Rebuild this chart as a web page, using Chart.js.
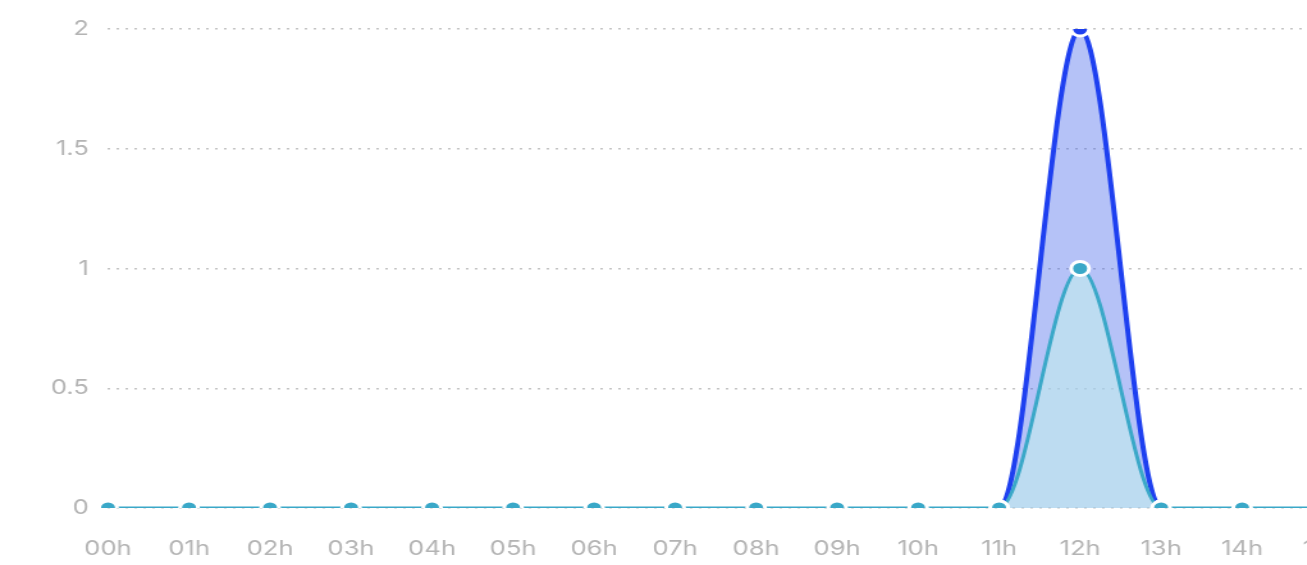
<!DOCTYPE html>
<html>
<head>
<meta charset="utf-8">
<script src="https://cdn.jsdelivr.net/npm/chart.js@4/dist/chart.umd.min.js"></script>
<style>
  html, body { margin: 0; padding: 0; background: #fff; overflow: hidden; }
  #c { display: block; transform: scaleX(1.28); transform-origin: 0 0; }
</style>
</head>
<body>
<canvas id="c" width="1560" height="565"></canvas>
<script>
const hours = ["00h","01h","02h","03h","04h","05h","06h","07h","08h","09h","10h","11h",
               "12h","13h","14h","15h","16h","17h","18h","19h","20h","21h","22h","23h"];
const seriesTeal = [0,0,0,0,0,0,0,0,0,0,0,0,1,0,0,0,0,0,0,0,0,0,0,0];
const seriesBlue = [0,0,0,0,0,0,0,0,0,0,0,0,2,0,0,0,0,0,0,0,0,0,0,0];
const yTicks = [0, 0.5, 1, 1.5, 2];

const tickFont = { family: "Inter, 'Open Sans', sans-serif", size: 20, weight: 400 };
const TEAL = '#3aa8c8';
const BLUE = '#1e40f0';

new Chart(document.getElementById('c'), {
  type: 'line',
  data: {
    labels: hours,
    datasets: [
      {
        label: 'teal',
        data: seriesTeal,
        borderColor: TEAL,
        borderWidth: 3,
        backgroundColor: 'rgba(195,240,235,0.55)',
        fill: 'origin',
        cubicInterpolationMode: 'monotone',
        pointRadius: 7,
        pointHoverRadius: 7,
        pointBackgroundColor: TEAL,
        pointBorderColor: '#ffffff',
        pointBorderWidth: 3
      },
      {
        label: 'blue',
        data: seriesBlue,
        borderColor: BLUE,
        borderWidth: 4,
        segment: {
          borderColor: ctx => (ctx.p0.parsed.y === 0 && ctx.p1.parsed.y === 0) ? 'rgba(0,0,0,0)' : BLUE
        },
        backgroundColor: 'rgba(60,95,235,0.38)',
        fill: 'origin',
        cubicInterpolationMode: 'monotone',
        pointRadius: 7,
        pointHoverRadius: 7,
        pointBackgroundColor: BLUE,
        pointBorderColor: '#ffffff',
        pointBorderWidth: 3
      }
    ]
  },
  options: {
    responsive: false,
    animation: false,
    layout: { padding: { top: 29, right: 20, bottom: 0, left: 0 } },
    plugins: { legend: { display: false }, tooltip: { enabled: false } },
    scales: {
      x: {
        grid: { display: false, drawTicks: false },
        border: { display: false },
        ticks: { color: '#b4b4b4', font: tickFont, padding: 29, maxRotation: 0, autoSkip: false },
        afterFit: s => { s.height = 57; s.paddingLeft = 0; s.paddingRight = 0; }
      },
      y: {
        min: 0,
        max: 2,
        afterBuildTicks: s => { s.ticks = yTicks.map(v => ({ value: v })); },
        grid: { color: '#c4c4c4', lineWidth: 1.5, drawTicks: false },
        border: { display: false, dash: [2, 5] },
        ticks: { color: '#b4b4b4', font: tickFont, padding: 15, callback: v => String(v) },
        afterFit: s => { s.width = 84.4; }
      }
    }
  }
});
</script>
</body>
</html>
